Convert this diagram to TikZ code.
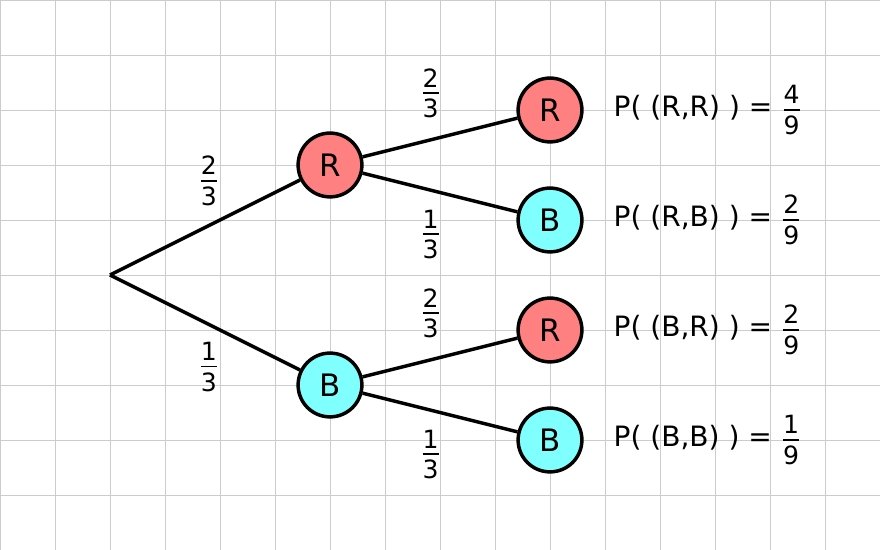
\documentclass[tikz,border=0pt]{standalone}
\usepackage{amsmath}
\usepackage{fontspec}
\setmainfont{DejaVu Sans}

\definecolor{redfill}{RGB}{255,128,128}
\definecolor{bluefill}{RGB}{128,255,255}
\definecolor{gridgray}{RGB}{204,204,204}

\newcommand{\pfr}[2]{$\genfrac{}{}{0.9pt}{1}{\mbox{\fontsize{13}{14}\selectfont\rule[-1.8pt]{0pt}{1.8pt}#1}}{\mbox{\fontsize{13}{14}\selectfont\rule{0pt}{11.3pt}#2}}$}

\begin{document}
\begin{tikzpicture}[
			ball/.style={circle, draw, line width=1.8pt, minimum size=1.16cm, inner sep=0pt, font=\fontsize{16}{18}\selectfont},
			red ball/.style={ball, fill=redfill},
			blue ball/.style={ball, fill=bluefill},
			prob/.style={anchor=west, inner sep=0pt, font=\fontsize{14.5}{17}\selectfont},
			branch/.style={line width=1.8pt}
		]
			% grid paper
			\useasboundingbox (0,0) rectangle (16,10);
			\draw[gridgray, line width=0.5pt] (0,0) grid (16,10);

			% first draw
			\coordinate (root) at (2,5);
			\node[red ball] (r) at (6,7) {R};
			\node[blue ball] (b) at (6,3) {B};
			\path[branch]
				(root) edge node[above=6pt, pos=0.52] {\pfr{2}{3}} (r)
				(root) edge node[below=5pt, pos=0.52] {\pfr{1}{3}} (b);

			% second draw
			\node[red ball] (rr) at (10,8) {R};
			\node[blue ball] (rb) at (10,6) {B};
			\node[red ball] (br) at (10,4) {R};
			\node[blue ball] (bb) at (10,2) {B};
			\path[branch]
				(r) edge node[above=7pt, pos=0.44] {\pfr{2}{3}} (rr)
				(r) edge node[below=6pt, pos=0.44] {\pfr{1}{3}} (rb)
				(b) edge node[above=7pt, pos=0.44] {\pfr{2}{3}} (br)
				(b) edge node[below=6pt, pos=0.44] {\pfr{1}{3}} (bb);

			% outcomes
			\node[prob] (prr) at (11.15,8) {P( (R,R) ) = \pfr{4}{9}};
			\node[prob] (prb) at (11.15,6) {P( (R,B) ) = \pfr{2}{9}};
			\node[prob] (pbr) at (11.15,4) {P( (B,R) ) = \pfr{2}{9}};
			\node[prob] (pbb) at (11.15,2) {P( (B,B) ) = \pfr{1}{9}};
		\end{tikzpicture}
\end{document}
